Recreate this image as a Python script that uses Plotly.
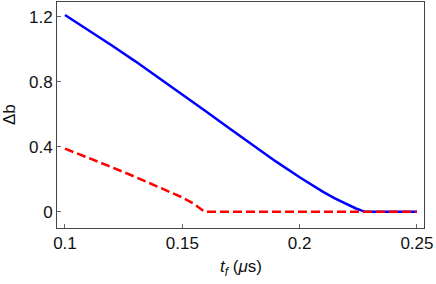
import plotly.graph_objects as go

# Data
t_blue = [0.100, 0.110, 0.120, 0.130, 0.140, 0.150, 0.160, 0.170, 0.180, 0.190, 0.200, 0.205, 0.210, 0.215, 0.220, 0.224, 0.2265, 0.228, 0.250]
db_blue = [1.21, 1.117, 1.022, 0.925, 0.824, 0.721, 0.618, 0.513, 0.41, 0.308, 0.212, 0.166, 0.122, 0.082, 0.045, 0.02, 0.007, 0.0, 0.0]

t_red = [0.100, 0.110, 0.120, 0.130, 0.140, 0.150, 0.155, 0.1595, 0.250]
db_red = [0.388, 0.332, 0.274, 0.214, 0.152, 0.088, 0.048, 0.0, 0.0]

x_ticks = [0.1, 0.15, 0.2, 0.25]
x_tick_labels = ["0.1", "0.15", "0.2", "0.25"]
y_ticks = [0, 0.4, 0.8, 1.2]
y_tick_labels = ["0", "0.4", "0.8", "1.2"]

FONT = "Liberation Sans, Arial, sans-serif"

fig = go.Figure()
fig.add_trace(go.Scatter(x=t_blue, y=db_blue, mode="lines",
                         line=dict(color="#0000ff", width=2.5),
                         showlegend=False))
fig.add_trace(go.Scatter(x=t_red, y=db_red, mode="lines",
                         line=dict(color="#ff0000", width=2.5, dash="9px,4px"),
                         showlegend=False))

axis_common = dict(showgrid=False, zeroline=False, showline=True, mirror=True,
                   linecolor="#444444", linewidth=1, ticks="inside", ticklen=4,
                   tickcolor="#666666", automargin=False,
                   tickfont=dict(family=FONT, size=17, color="#111111"))

fig.update_xaxes(range=[0.0966, 0.253], tickvals=x_ticks, ticktext=x_tick_labels,
                 **axis_common)
fig.update_yaxes(range=[-0.1, 1.29], tickvals=y_ticks, ticktext=y_tick_labels,
                 **axis_common)

fig.add_annotation(text="<i>t<sub>f</sub></i> (<i>μ</i>s)", xref="paper", yref="paper",
                   x=0.5, y=0, yshift=-40, xanchor="center", yanchor="middle",
                   showarrow=False, font=dict(family=FONT, size=17, color="#111111"))
fig.add_annotation(text="Δb", xref="paper", yref="paper",
                   x=0, y=0.5, xshift=-48, xanchor="center", yanchor="middle", textangle=-90,
                   showarrow=False, font=dict(family=FONT, size=17, color="#111111"))

fig.update_layout(width=436, height=284,
                  margin=dict(l=57, r=12, t=2, b=56, autoexpand=False),
                  plot_bgcolor="white", paper_bgcolor="white")

fig.write_html("out.html", config={"displayModeBar": False},
               post_script="document.body.style.margin='0';document.body.style.overflow='hidden';")
